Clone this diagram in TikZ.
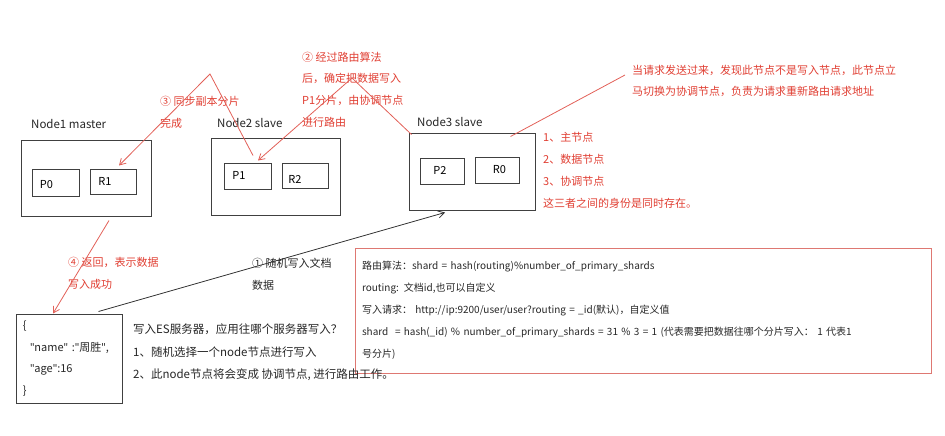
\documentclass[tikz,border=0pt]{standalone}
\usepackage{fontspec}
\setmainfont{Noto Sans CJK SC}
\newfontfamily\latinfont{Noto Sans}
\newcommand{\dq}{{\latinfont"}}
\usepackage{xcolor}
\definecolor{noteRed}{RGB}{224,62,50}
\definecolor{lineRed}{RGB}{226,96,88}
\definecolor{boxRed}{RGB}{222,120,114}
\usetikzlibrary{positioning,arrows.meta}

\begin{document}
\begin{tikzpicture}[x=1pt,y=-1pt,>={Straight Barb[length=6pt,width=7pt]},
			server node/.style={rectangle, draw=black!75, line width=1pt, fill=white},
			shard node/.style={rectangle, draw=black!75, line width=1pt, fill=white, inner sep=0pt, label distance=0pt},
			plain text/.style={anchor=west, inner sep=0pt, text=black!85, align=left, font=\fontsize{11}{21.7}\selectfont},
			red text/.style={plain text, text=noteRed},
			red line/.style={draw=lineRed, line width=0.8pt},
			black line/.style={draw=black!80, line width=0.8pt}]
			\useasboundingbox (0,0) rectangle (945,436);
			
			% servers
			\node[server node,minimum width=130pt,minimum height=76pt] (node1) at (86,178) {};
			\node[server node,minimum width=129pt,minimum height=77pt] (node2) at (275.5,176.5) {};
			\node[server node,minimum width=126pt,minimum height=77pt] (node3) at (472,171.5) {};
			\node[plain text,font=\fontsize{11.5}{14}\selectfont] (name1) at (31,124) {Node1 master};
			\node[plain text,font=\fontsize{11.5}{14}\selectfont] (name2) at (217,123) {Node2 slave};
			\node[plain text,font=\fontsize{11.5}{14}\selectfont] (name3) at (417,122) {Node3 slave};
			
			% shards
			\node[shard node,minimum width=47pt,minimum height=27pt,label={[xshift=-9pt,yshift=-2.5pt,font=\fontsize{11}{13}\selectfont]center:P0}] (p0) at (55.5,182.5) {};
			\node[shard node,minimum width=46pt,minimum height=25pt,label={[xshift=-8pt,font=\fontsize{11}{13}\selectfont]center:R1}] (r1) at (113,181.5) {};
			\node[shard node,minimum width=47pt,minimum height=26pt,label={[xshift=-8.5pt,yshift=1pt,font=\fontsize{11}{13}\selectfont]center:P1}] (p1) at (247.5,176) {};
			\node[shard node,minimum width=46pt,minimum height=25pt,label={[xshift=-10pt,yshift=-3.5pt,font=\fontsize{11}{13}\selectfont]center:R2}] (r2) at (305,175.5) {};
			\node[shard node,minimum width=44pt,minimum height=26pt,label={[xshift=-2pt,yshift=1pt,font=\fontsize{11}{13}\selectfont]center:P2}] (p2) at (442,171) {};
			\node[shard node,minimum width=44pt,minimum height=26pt,label={[xshift=2.5pt,font=\fontsize{11}{13}\selectfont]center:R0}] (r0) at (497,170) {};
			
			% document and routing notes
			\node[server node,minimum width=106pt,minimum height=89pt,inner xsep=7pt,inner ysep=0pt,text width=92pt,align=left,text=black!85,font=\fontsize{11}{21.7}\selectfont] (doc) at (69,358.5) {\{\\\hspace*{7pt}\dq name\dq\ :\dq 周胜\dq,\\\hspace*{7pt}\dq age\dq:16\\\}};
			\node[rectangle,draw=boxRed,line width=1pt,minimum width=576pt,minimum height=125pt,inner xsep=7pt,inner ysep=0pt,text width=562pt,align=left,text=black!85,font=\fontsize{10}{22}\selectfont] (routing) at (643,310.5) {路由算法：shard = hash(routing)\%number\_of\_primary\_shards\\routing: 文档id,也可以自定义\\写入请求： http://ip:9200/user/user?routing = \_id(默认)，自定义值\\shard\ \ = hash(\_id) \% number\_of\_primary\_shards = 31 \% 3 = 1 (代表需要把数据往哪个分片写入： 1 代表1\\号分片)};
			
			% labels
			\node[red text] (step3) at (160,112.5) {③ 同步副本分片\\完成};
			\node[red text] (step2) at (302,89.5) {② 经过路由算法\\后，确定把数据写入\\P1分片，由协调节点\\进行路由};
			\node[red text] (request) at (632,81) {当请求发送过来，发现此节点不是写入节点，此节点立\\马切换为协调节点，负责为请求重新路由请求地址};
			\node[red text,font=\fontsize{11}{22}\selectfont] (roles) at (543,170) {1、主节点\\2、数据节点\\3、协调节点\\这三者之间的身份是同时存在。};
			\node[red text] (step4) at (68,273.5) {④ 返回，表示数据\\写入成功};
			\node[plain text] (step1) at (252,274) {① 随机写入文档\\数据};
			\node[plain text,font=\fontsize{11.5}{22.5}\selectfont] (howto) at (133,352.5) {写入ES服务器，应用往哪个服务器写入？\\1、随机选择一个node节点进行写入\\2、此node节点将会变成 协调节点, 进行路由工作。};
			
			\coordinate (sync top) at (210,74);
			\coordinate (route top) at (352,78);
			
			% connectors
			\draw[black line,->] ([xshift=-24pt,yshift=2pt]doc.north east) -- ([xshift=-27pt,yshift=-2pt]node3.south);
			\draw[red line,->] ([xshift=5.5pt,yshift=7pt]p1.north) -- (sync top) -- ([xshift=6pt,yshift=3pt]r1.north);
			\draw[red line,->] ([xshift=3pt,yshift=-2pt]node3.north west) -- (route top) -- ([xshift=10.5pt,yshift=2pt]p1.north);
			\draw[red line] ([xshift=-25pt,yshift=-4pt]node3.north east) -- ([xshift=-7pt,yshift=6pt]request.west);
			\draw[red line,->] ([xshift=23pt,yshift=-4pt]node1.south) -- ([xshift=-16pt]doc.north);
			
		\end{tikzpicture}
\end{document}
